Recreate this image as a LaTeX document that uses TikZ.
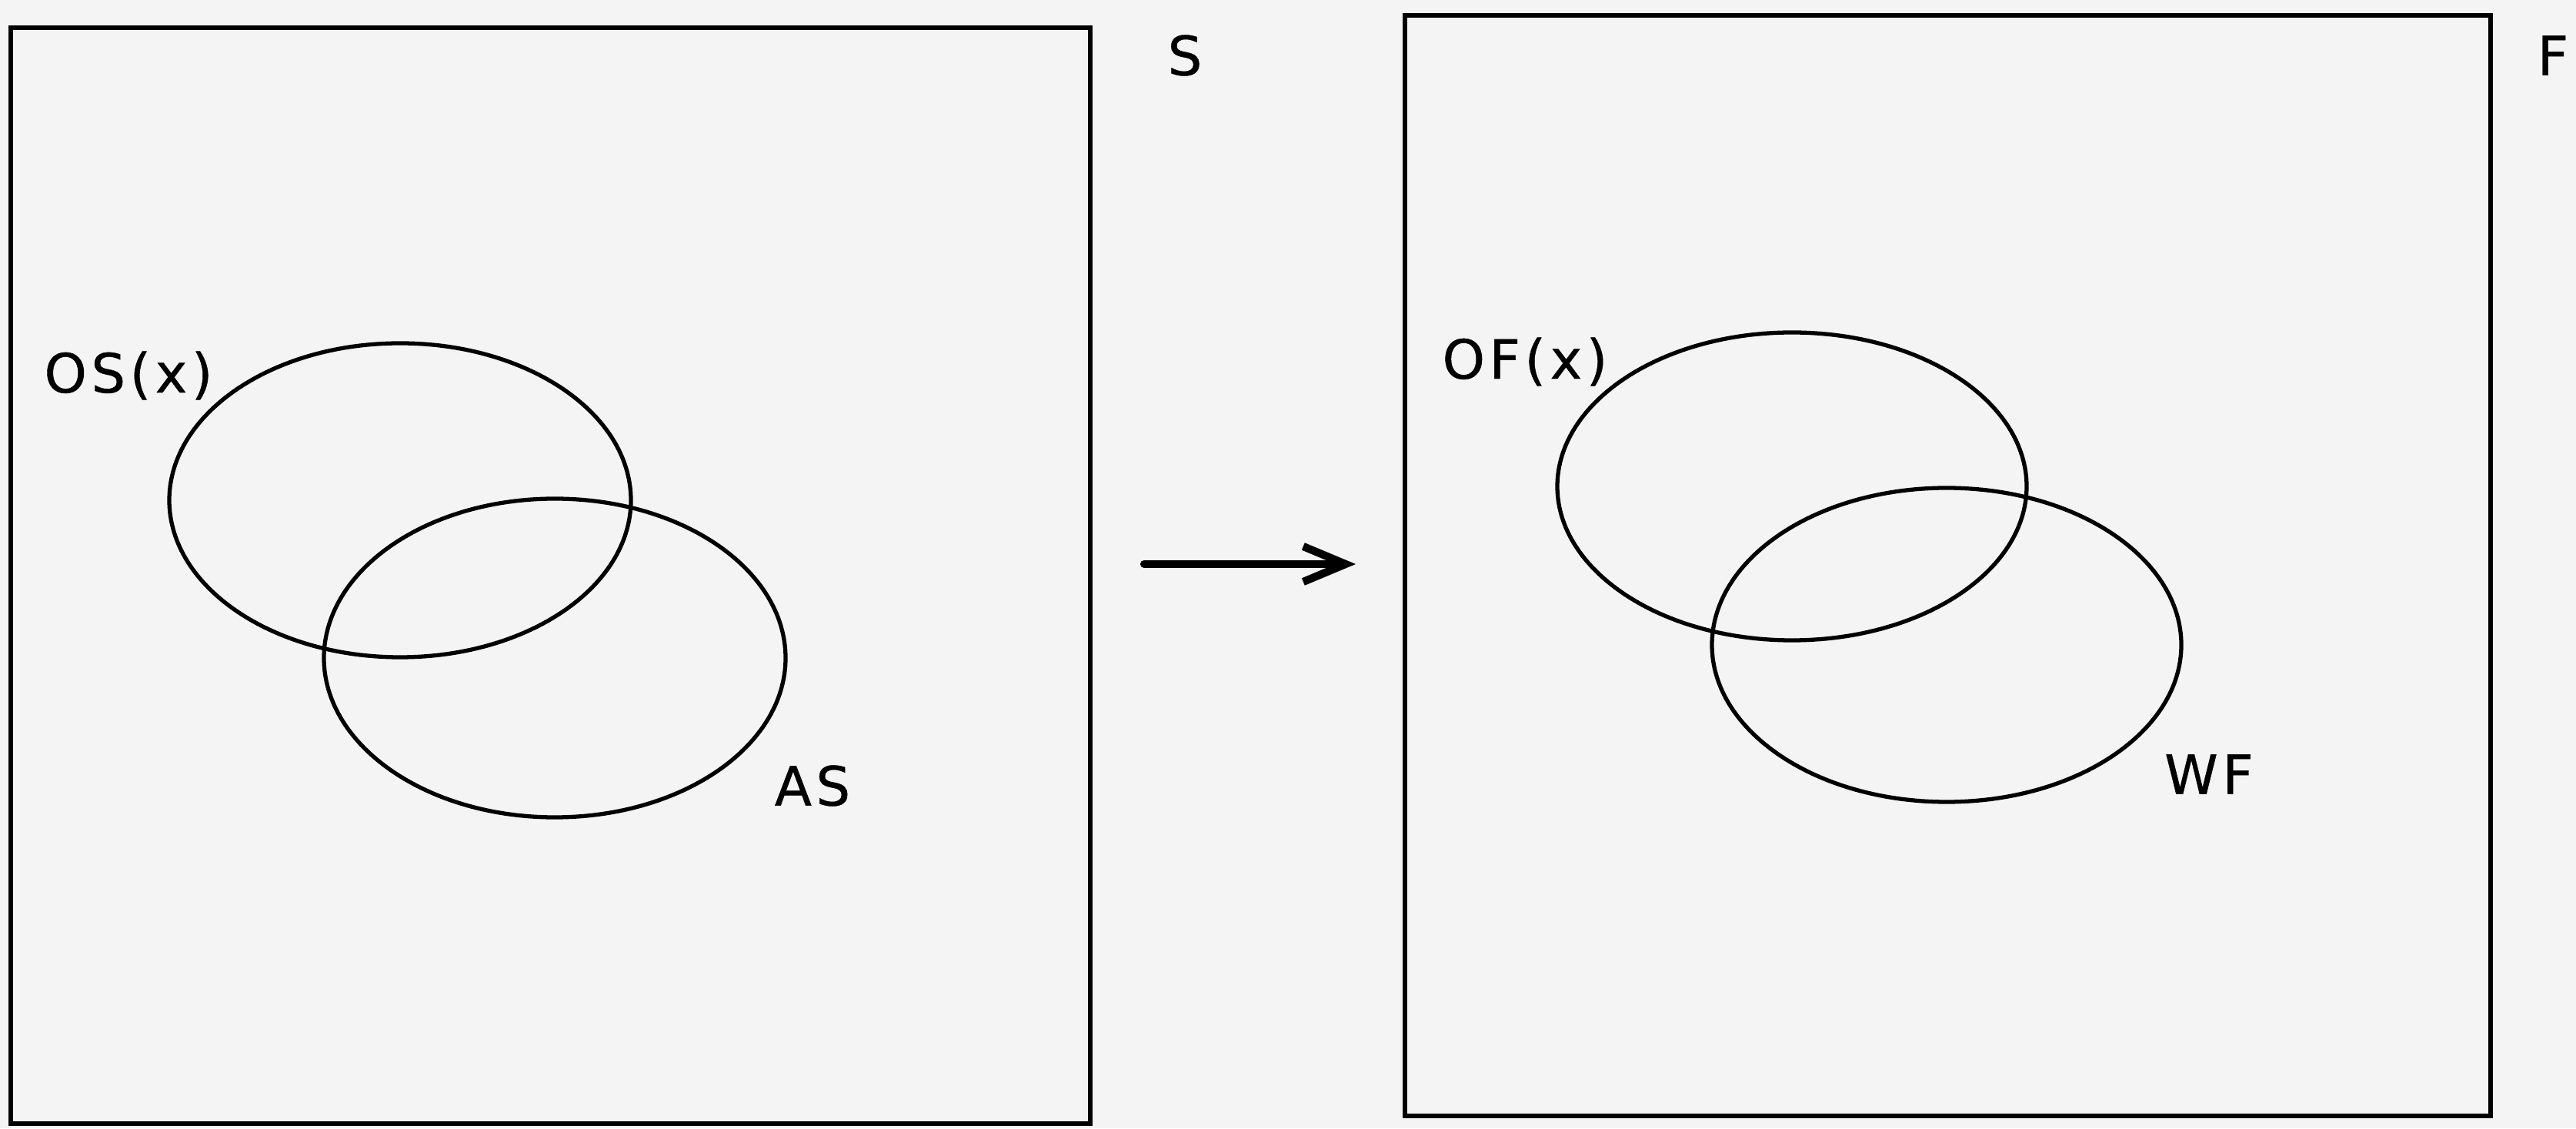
\documentclass[tikz,border=0pt]{standalone}
\usepackage{fontspec}
\setmainfont{DejaVu Sans}
\newfontfamily\plotfont[LetterSpace=8, FakeBold=0.6]{DejaVu Sans}
\usetikzlibrary{arrows.meta}
\definecolor{papergray}{RGB}{244,244,244}
\tikzset{
    quadro/.style={draw=black, line width=1.9pt},
    conjunto/.style={draw=black, line width=1.5pt},
    rotulo/.style={font=\plotfont\fontsize{20}{24}\selectfont, inner sep=0pt}
}

\begin{document}
\begin{tikzpicture}
    % Fundo
    \fill[papergray] (0,0) rectangle (33.48,14.66);
    \useasboundingbox (0,0) rectangle (33.48,14.66);

    % Quadros
    \draw[quadro] (0.14,0.06) rectangle (14.17,14.30);
    \draw[quadro] (18.26,0.16) rectangle (32.37,14.46);

    % Conjuntos do lado S
    \draw[conjunto] (5.20,8.16) ellipse (3.00 and 2.04);
    \draw[conjunto] (7.21,6.11) ellipse (3.00 and 2.07);
    \node[rotulo] (os) at (1.67,9.78) {OS(x)};
    \node[rotulo] (as) at (10.56,4.45) {AS};

    % Conjuntos do lado F
    \draw[conjunto] (23.29,8.34) ellipse (3.05 and 2.00);
    \draw[conjunto] (25.30,6.28) ellipse (3.05 and 2.04);
    \node[rotulo] (of) at (19.82,9.96) {OF(x)};
    \node[rotulo] (wf) at (28.71,4.60) {WF};

    % Letras S e F
    \node[rotulo] (s) at (15.40,13.94) {S};
    \node[rotulo] (f) at (33.18,13.94) {F};

    % Seta
    \coordinate (saida) at (14.87,7.33);
    \coordinate (chegada) at (17.62,7.33);
    \draw[line width=2.9pt, line cap=round,
          -{Straight Barb[length=5.5mm, width=4.6mm]}] (saida) -- (chegada);
\end{tikzpicture}
\end{document}
